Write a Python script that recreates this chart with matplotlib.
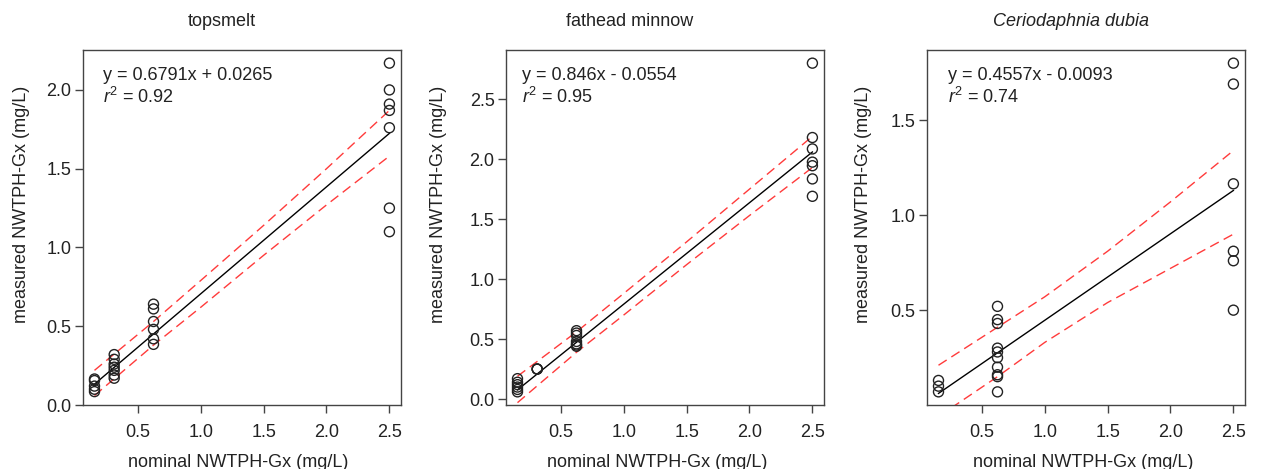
import numpy as np
import matplotlib
matplotlib.use("Agg")
import matplotlib.pyplot as plt

plt.rcParams['font.family'] = ['Liberation Sans', 'DejaVu Sans']
plt.rcParams['font.size'] = 13
plt.rcParams['mathtext.fontset'] = 'custom'
plt.rcParams['mathtext.rm'] = 'Liberation Sans'
plt.rcParams['mathtext.it'] = 'Liberation Sans:italic'

# nominal concentrations (mg/L)
x_lo, x_2, x_3, x_hi = 0.156, 0.3125, 0.625, 2.5

# topsmelt measured values
top_x = [x_lo]*5 + [x_2]*7 + [x_3]*6 + [x_hi]*7
top_y = [0.165, 0.155, 0.12, 0.10, 0.085,
         0.32, 0.29, 0.26, 0.24, 0.22, 0.19, 0.17,
         0.64, 0.61, 0.53, 0.48, 0.42, 0.385,
         2.17, 2.00, 1.91, 1.87, 1.76, 1.25, 1.10]

# fathead minnow measured values
fat_x = [x_lo]*6 + [x_2]*3 + [x_3]*7 + [x_hi]*7
fat_y = [0.17, 0.14, 0.12, 0.10, 0.08, 0.06,
         0.25, 0.25, 0.25,
         0.57, 0.55, 0.53, 0.48, 0.46, 0.45, 0.44,
         2.80, 2.18, 2.085, 1.975, 1.945, 1.835, 1.69]

# Ceriodaphnia dubia measured values
cer_x = [x_lo]*3 + [x_3]*10 + [x_hi]*6
cer_y = [0.13, 0.10, 0.07,
         0.52, 0.45, 0.43, 0.30, 0.28, 0.25, 0.20, 0.16, 0.15, 0.07,
         1.80, 1.69, 1.165, 0.81, 0.76, 0.50]

# regression equations and confidence bands
band_x = [0.156, 0.625, 1.0, 1.5, 2.0, 2.5]
top_fit = (0.6791, 0.0265, "y = 0.6791x + 0.0265", "0.92")
top_up = [0.22, 0.53, 0.79, 1.14, 1.50, 1.87]
top_lw = [0.06, 0.38, 0.62, 0.95, 1.27, 1.58]
fat_fit = (0.846, -0.0554, "y = 0.846x - 0.0554", "0.95")
fat_up = [0.19, 0.56, 0.88, 1.31, 1.75, 2.19]
fat_lw = [-0.03, 0.39, 0.70, 1.12, 1.53, 1.93]
cer_fit = (0.4557, -0.0093, "y = 0.4557x - 0.0093", "0.74")
cer_up = [0.21, 0.41, 0.57, 0.81, 1.07, 1.34]
cer_lw = [-0.06, 0.15, 0.33, 0.54, 0.72, 0.90]

titles = ["topsmelt", "fathead minnow", "Ceriodaphnia dubia"]
yticks = [[0, 0.5, 1.0, 1.5, 2.0], [0, 0.5, 1.0, 1.5, 2.0, 2.5], [0.5, 1.0, 1.5]]
xticks = [0.5, 1.0, 1.5, 2.0, 2.5]

W, H = 1262, 469
fig = plt.figure(figsize=(W/100, H/100), dpi=100)

panels = [(top_x, top_y, top_fit, top_up, top_lw),
          (fat_x, fat_y, fat_fit, fat_up, fat_lw),
          (cer_x, cer_y, cer_fit, cer_up, cer_lw)]
lefts = [82.7, 505.7, 926.7]
title_cx = [221.7, 630, 1071]
xlab_cx = [238, 657.6, 1083]
ylab_x = [21.7, 438.3, 863.3]
eq_x = [103.3, 521.7, 948.3]
frame = '#444444'

for i, (xs, ys, fit, up, lw) in enumerate(panels):
    ax = fig.add_axes([lefts[i]/W, 1-405/H, 318.5/W, 355/H])
    xs = np.array(xs); ys = np.array(ys)
    ax.scatter(xs, ys, s=52, facecolors='none', edgecolors='#222222', linewidths=1.0, zorder=3)
    a, b, eq, r2 = fit
    bx = np.array(band_x)
    ax.plot(bx, a*bx + b, color='black', lw=1.0, zorder=2)
    ax.plot(bx, up, color='#ff3b3b', lw=1.0, dashes=(7, 4), zorder=2)
    ax.plot(bx, lw, color='#ff3b3b', lw=1.0, dashes=(7, 4), zorder=2)
    # R style axis ranges: data range + 4%
    xr = xs.max() - xs.min(); yr = ys.max() - ys.min()
    ax.set_xlim(xs.min() - 0.04*xr, xs.max() + 0.04*xr)
    ax.set_ylim(ys.min() - 0.04*yr, ys.max() + 0.04*yr)
    ax.set_xticks(xticks)
    ax.set_xticklabels(["%.1f" % t for t in xticks])
    ax.set_yticks(yticks[i])
    ax.set_yticklabels(["%.1f" % t for t in yticks[i]])
    ax.tick_params(direction='out', length=6, width=1.0, color=frame, labelcolor='#222222')
    ax.tick_params(axis='x', pad=8)
    ax.tick_params(axis='y', pad=2)
    for s in ax.spines.values():
        s.set_color(frame)
        s.set_linewidth(1.0)

    fig.text(title_cx[i]/W, 1-22/H, titles[i], ha='center', va='center',
             style='italic' if i == 2 else 'normal', color='#222222')
    fig.text(xlab_cx[i]/W, 1-462/H, "nominal NWTPH-Gx (mg/L)", ha='center', va='center', color='#222222')
    fig.text(ylab_x[i]/W, 1-204/H, "measured NWTPH-Gx (mg/L)", ha='center', va='center',
             rotation=90, color='#222222')
    fig.text(eq_x[i]/W, 1-75/H, eq, ha='left', va='center', color='#222222')
    fig.text(eq_x[i]/W, 1-97/H, r"$r^2$ = " + r2, ha='left', va='center', color='#222222')

fig.savefig("out.png", dpi=100)
